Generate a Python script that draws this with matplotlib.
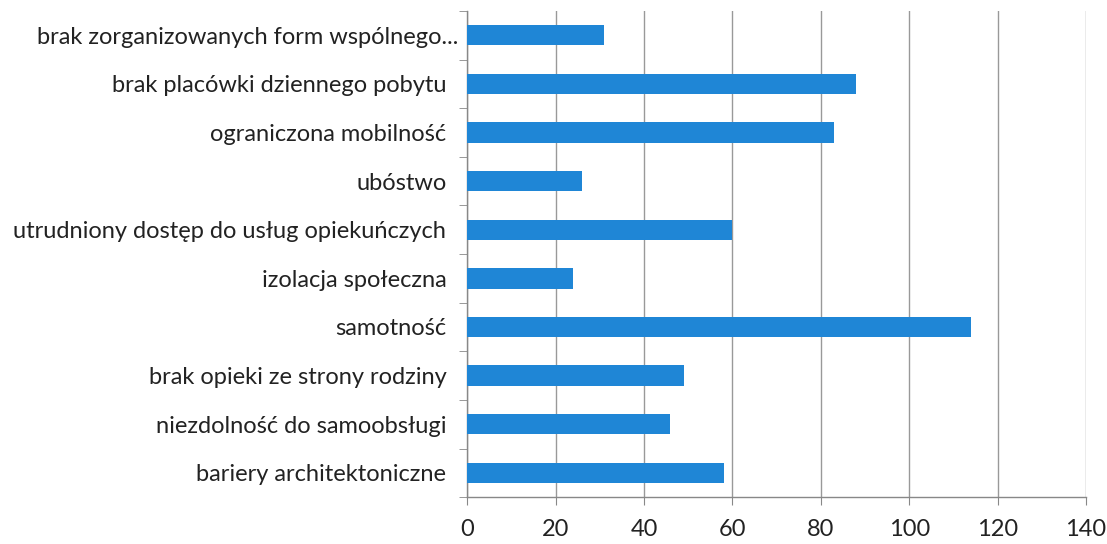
import numpy as np
import matplotlib
matplotlib.use("Agg")
import matplotlib.pyplot as plt
import matplotlib.transforms as mtransforms

# Categories from bottom to top, as they appear on the y axis
categories = [
    "bariery architektoniczne",
    "niezdolność do samoobsługi",
    "brak opieki ze strony rodziny",
    "samotność",
    "izolacja społeczna",
    "utrudniony dostęp do usług opiekuńczych",
    "ubóstwo",
    "ograniczona mobilność",
    "brak placówki dziennego pobytu",
    "brak zorganizowanych form wspólnego...",
]
values = [58, 46, 49, 114, 24, 60, 26, 83, 88, 31]
xticks = [0, 20, 40, 60, 80, 100, 120, 140]

plt.rcParams["font.family"] = ["Lato", "DejaVu Sans"]

fig = plt.figure(figsize=(11.07, 5.44), dpi=100)
ax = fig.add_axes([0.422, 0.086, 0.559, 0.894])

y = np.arange(len(categories))
ax.barh(y, values, height=0.42, color="#1f86d6", zorder=3)

ax.set_xlim(0, 140)
ax.set_ylim(-0.5, len(categories) - 0.5)
ax.set_xticks(xticks)
ax.set_xticklabels([str(t) for t in xticks], fontsize=17, color="#222222")
ax.set_yticks(y)
ax.set_yticklabels(categories, fontsize=17, color="#222222")

# Excel-style tick marks sit between the categories
ax.set_yticks(np.arange(-0.5, len(categories), 1.0), minor=True)
ax.tick_params(axis="y", which="major", length=0, pad=15)
ax.tick_params(axis="y", which="minor", length=6, direction="out", color="#888888")
ax.tick_params(axis="x", length=6, direction="out", color="#888888", pad=10)

# the truncated label runs closer to the axis
last = ax.get_yticklabels()[-1]
last.set_transform(last.get_transform() + mtransforms.ScaledTranslation(12 / 100, 0, fig.dpi_scale_trans))

ax.grid(axis="x", color="#999999", linewidth=1.0, zorder=0)
for side in ("top", "right"):
    ax.spines[side].set_visible(False)
for side in ("left", "bottom"):
    ax.spines[side].set_color("#888888")
    ax.spines[side].set_linewidth(1.0)

fig.savefig("out.png", dpi=100, facecolor="white")
